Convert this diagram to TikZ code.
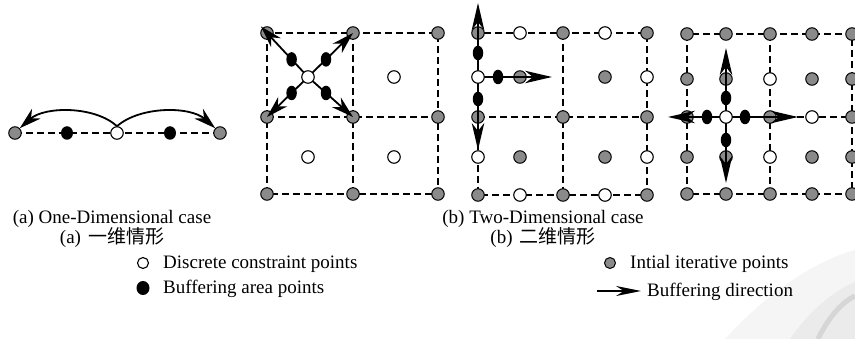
\documentclass[tikz,border=0pt]{standalone}
\usepackage{fontspec}
\setmainfont{Liberation Serif}
\newfontfamily\cjk{Noto Sans CJK SC}
\usetikzlibrary{arrows.meta,shapes.geometric,calc}
\definecolor{ptgray}{RGB}{138,138,138}
\begin{document}
\begin{tikzpicture}[x=1pt,y=-1pt,
  gp/.style={circle,draw=black,fill=ptgray,line width=1pt,inner sep=0pt,minimum size=12.5pt},
  wp/.style={circle,draw=black,fill=white,line width=1.1pt,inner sep=0pt,minimum size=12.5pt},
  bp/.style={ellipse,fill=black,inner sep=0pt,minimum width=10.5pt,minimum height=14.5pt},
  outerline/.style={line width=2.5pt,dash pattern=on 7pt off 4pt},
  innerline/.style={line width=1.4pt,dash pattern=on 7pt off 4pt},
  arrbig/.style={line width=1.8pt,-{Stealth[length=27pt,width=12.5pt,inset=8pt]}},
  arrmid/.style={line width=1.8pt,-{Stealth[length=22pt,width=13pt,inset=7pt]}},
  legarrow/.style={line width=1.5pt,-{Stealth[length=25pt,width=10pt,inset=8pt]}},
  lbl/.style={font=\fontsize{19}{20}\selectfont,inner sep=0pt}]
\useasboundingbox (0,0) rectangle (855,339);

% faint watermark, bottom right
\fill[black!4] (725,339) .. controls (760,300) and (810,262) .. (855,250) -- (855,339) -- cycle;
\fill[black!8] (790,339) .. controls (810,310) and (835,290) .. (855,282) -- (855,339) -- cycle;
\draw[black!16,line width=5pt] (818,339) .. controls (828,318) and (842,302) .. (855,296);

% ---------- (a) one-dimensional ----------
\coordinate (o1) at (15,133);
\coordinate (o2) at (67,133);
\coordinate (o3) at (117,133);
\coordinate (o4) at (170,133);
\coordinate (o5) at (220,133);
\draw[innerline,line width=1.6pt] (o1) -- (o5);
\node[gp] (og1) at (o1) {};
\node[bp,minimum width=12pt,minimum height=13.5pt] (ob1) at (o2) {};
\node[wp] (ow) at (o3) {};
\node[bp,minimum width=12pt,minimum height=13.5pt] (ob2) at (o4) {};
\node[gp] (og2) at (o5) {};
\draw[arrmid] (ow.north) .. controls (95,106) and (45,106) .. (og1.north east);
\draw[arrmid] (ow.north) .. controls (140,106) and (190,106) .. (og2.north west);

% ---------- (b) panel 1 ----------
\foreach \i/\x in {1/267,2/353,3/438}{\foreach \j/\y in {1/33,2/117,3/194}{\coordinate (a\i\j) at (\x,\y);}}
\draw[outerline] (a11) rectangle (a33);
\draw[innerline] (a21) -- (a23);
\draw[innerline] (a12) -- (a32);
\foreach \i in {1,2,3}{\foreach \j in {1,2,3}{\node[gp] (ga\i\j) at (a\i\j) {};}}
\coordinate (ac) at (308,77);
\node[wp] (wa2) at (394,77) {};
\node[wp] (wa3) at (308,157) {};
\node[wp] (wa4) at (394,157) {};
\draw[arrmid] (ac) -- ($(a11)!-9pt!(ac)$);
\draw[arrmid] (ac) -- (a21);
\draw[arrmid] (ac) -- (a12);
\draw[arrmid] (ac) -- (a22);
\node[bp] (ba1) at ($(ac)!0.4!(a11)$) {};
\node[bp] (ba2) at ($(ac)!0.4!(a21)$) {};
\node[bp] (ba3) at ($(ac)!0.4!(a12)$) {};
\node[bp] (ba4) at ($(ac)!0.4!(a22)$) {};
\node[wp] (wa1) at (ac) {};

% ---------- (b) panel 2 ----------
\foreach \i/\x in {1/478,2/520,3/563,4/605,5/647}{\foreach \j/\y in {1/33,2/77,3/117,4/157,5/195}{\coordinate (b\i\j) at (\x,\y);}}
\draw[outerline] (b11) rectangle (b55);
\draw[innerline] (b31) -- (b35);
\draw[innerline] (b13) -- (b53);
\foreach \n in {11,31,51,22,42,13,33,53,24,44,15,35,55}{\node[gp] (gb\n) at (b\n) {};}
\foreach \n in {21,41,52,14,54,25,45}{\node[wp] (wb\n) at (b\n) {};}
\coordinate (bt1) at (478,3);
\coordinate (bt2) at (478,150);
\coordinate (bt3) at (552,77);
\draw[arrbig] (b12) -- (bt1);
\draw[arrbig] (b12) -- (bt2);
\draw[arrbig] (b12) -- (bt3);
\node[bp] (bb1) at (478,53) {};
\node[bp] (bb2) at (478,99) {};
\node[bp] (bb3) at (498,77) {};
\node[wp] (wb12) at (b12) {};

% ---------- (b) panel 3 ----------
\foreach \i/\x in {1/687,2/726,3/770,4/812,5/852}{\foreach \j/\y in {1/34,2/79,3/117,4/157,5/194}{\coordinate (c\i\j) at (\x,\y);}}
\draw[outerline] (c11) rectangle (c55);
\draw[innerline] (c31) -- (c35);
\draw[innerline] (c13) -- (c53);
\foreach \n in {11,21,31,41,51,12,22,42,52,13,33,53,14,24,44,54,15,25,35,45,55}{\node[gp] (gc\n) at (c\n) {};}
\foreach \n in {32,43,34}{\node[wp] (wc\n) at (c\n) {};}
\coordinate (ct1) at (726,48);
\coordinate (ct2) at (726,183);
\coordinate (ct3) at (668,117);
\coordinate (ct4) at (798,117);
\draw[arrbig] (c23) -- (ct1);
\draw[arrbig] (c23) -- (ct2);
\draw[arrbig] (c23) -- (ct3);
\draw[arrbig] (c23) -- (ct4);
\node[bp] (cb1) at (726,98) {};
\node[bp] (cb2) at (726,140) {};
\node[bp] (cb3) at (707,117) {};
\node[bp] (cb4) at (745,117) {};
\node[wp] (wc23) at (c23) {};

% ---------- captions ----------
\node[lbl,anchor=base] (capa1) at (112,224) {(a) One-Dimensional case};
\node[lbl,anchor=base] (capa2) at (112,244) {(a)\hspace{7pt}{\cjk 一维情形}};
\node[lbl,anchor=base] (capb1) at (543,224) {(b) Two-Dimensional case};
\node[lbl,anchor=base] (capb2) at (543,244) {(b)\hspace{7pt}{\cjk 二维情形}};

% ---------- legend ----------
\node[wp,minimum size=11pt] (lw) at (143,263) {};
\node[lbl,anchor=base west] (lwt) at (163,269) {Discrete constraint points};
\node[bp,minimum width=13pt,minimum height=14pt] (lb) at (143,288) {};
\node[lbl,anchor=base west] (lbt) at (163,294) {Buffering area points};
\node[gp,minimum size=11pt] (lg) at (610,263) {};
\node[lbl,anchor=base west] (lgt) at (630,269) {Intial iterative points};
\coordinate (la1) at (597,291);
\coordinate (la2) at (641,291);
\draw[legarrow] (la1) -- (la2);
\node[lbl,anchor=base west] (lat) at (647,297) {Buffering direction};
\end{tikzpicture}
\end{document}
